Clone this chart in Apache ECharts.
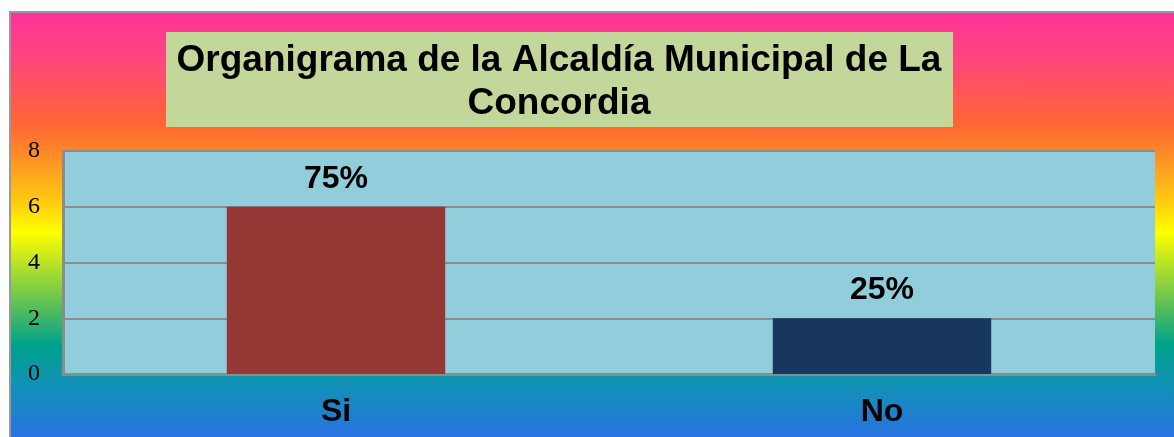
<!DOCTYPE html>
<html>
<head>
<meta charset="utf-8">
<script src="https://cdn.jsdelivr.net/npm/echarts@6/dist/echarts.min.js"></script>
<style>
  html, body { margin: 0; padding: 0; background: #fff; }
  #bg {
    position: absolute; left: 9px; top: 11px; width: 1170px; height: 430px;
    border-left: 2px solid #999; border-top: 2px solid #999;
    background: linear-gradient(to bottom, #ff3399 0%, #ff4480 10%, #ff6633 26%, #ff8c26 33%,
      #ffcc10 44%, #ffff00 51%, #a8dc30 60%, #5cc058 68%, #00a28a 77%, #1390b8 87%, #2b6fe8 100%);
  }
  #main { position: absolute; left: 0; top: 0; width: 1174px; height: 437px; }
</style>
</head>
<body>
<div id="bg"></div>
<div id="main"></div>
<script>
  // datos
  var categorias = ['Si', 'No']
  var valores = [6, 2]
  var porcentajes = ['75%', '25%']
  var colores = ['#953735', '#17375e']

  var myChart = echarts.init(document.getElementById('main'))

  var option = {
      backgroundColor: 'transparent',
      animation: false,
      graphic: [
          { // caja del titulo
              type: 'rect',
              shape: { x: 166, y: 32, width: 787, height: 95 },
              style: { fill: '#c4d79b' }
          },
          {
              type: 'text',
              x: 559,
              y: 82,
              style: {
                  text: 'Organigrama de la Alcaldía Municipal de La\nConcordia',
                  fontFamily: 'Liberation Sans, Arial, sans-serif',
                  fontWeight: 'bold',
                  fontSize: 37,
                  lineHeight: 43,
                  fill: '#000',
                  align: 'center',
                  verticalAlign: 'middle'
              }
          }
      ],
      grid: {
          left: 63, top: 151, width: 1092, height: 223,
          show: true, backgroundColor: '#92cddc', borderWidth: 0
      },
      xAxis: {
          type: 'category',
          data: categorias,
          axisTick: { show: false },
          axisLine: { show: true, lineStyle: { color: '#8c8c8c', width: 3 } },
          axisLabel: {
              margin: 22,
              color: '#000',
              fontFamily: 'Liberation Sans, Arial, sans-serif',
              fontWeight: 'bold',
              fontSize: 32
          }
      },
      yAxis: {
          type: 'value',
          min: 0, max: 8, interval: 2,
          axisLine: { show: true, lineStyle: { color: '#8c8c8c', width: 3 } },
          axisTick: { show: false },
          splitLine: { lineStyle: { color: '#8c8c8c', width: 2 } },
          axisLabel: {
              margin: 23,
              color: '#000',
              fontFamily: 'Liberation Serif, Times New Roman, serif',
              fontSize: 24
          }
      },
      series: [
          {
              type: 'bar',
              barWidth: '40%',
              data: valores.map(function (v, i) {
                  return { value: v, itemStyle: { color: colores[i] } }
              }),
              label: {
                  show: true,
                  position: 'top',
                  distance: 12,
                  formatter: function (p) { return porcentajes[p.dataIndex] },
                  color: '#000',
                  fontFamily: 'Liberation Sans, Arial, sans-serif',
                  fontWeight: 'bold',
                  fontSize: 32
              }
          }
      ]
  }

  myChart.setOption(option)
</script>
</body>
</html>
